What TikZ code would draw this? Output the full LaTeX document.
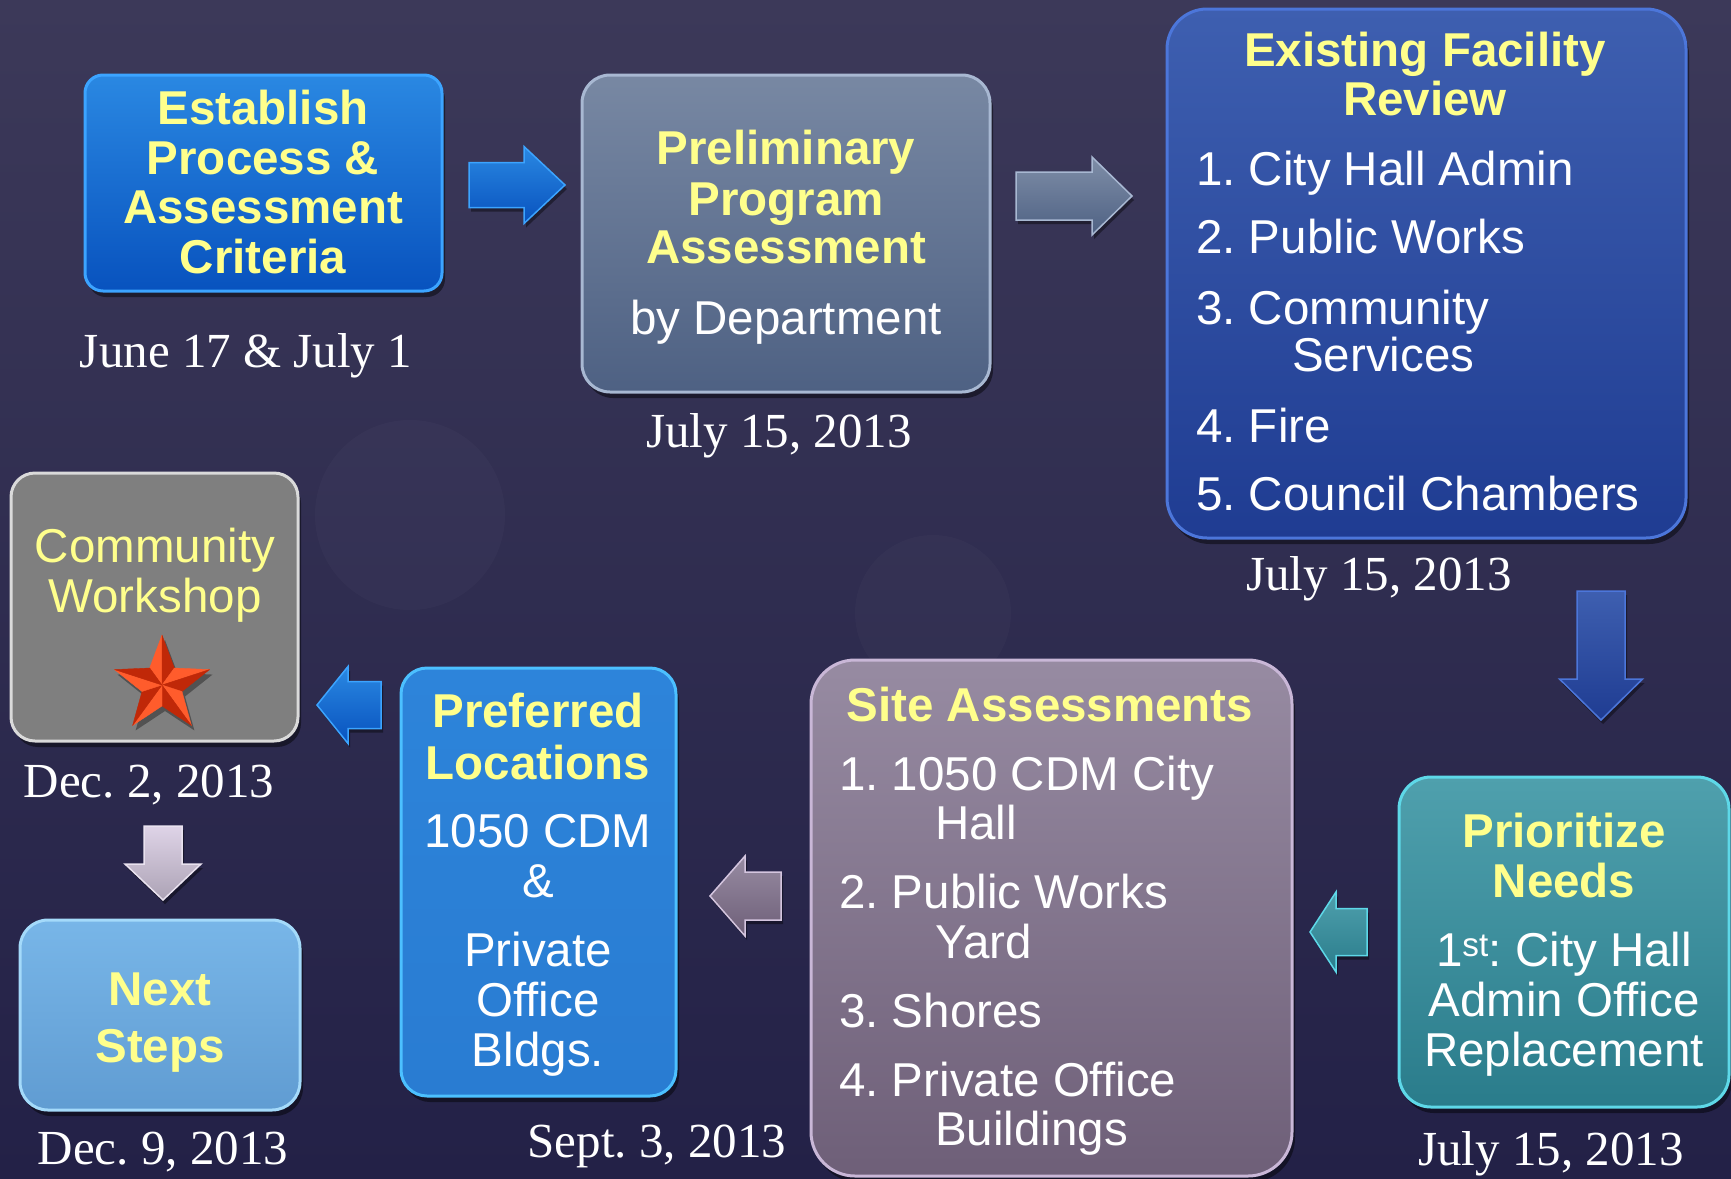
\documentclass[tikz,border=0pt]{standalone}
\usepackage{fontspec}
\setmainfont{Liberation Sans}
\newfontfamily\datefont{Liberation Serif}
\usetikzlibrary{shadows}
\frenchspacing

% palette
\definecolor{bgtop}{HTML}{3C3959}
\definecolor{bgbot}{HTML}{232147}
\definecolor{yel}{HTML}{FFFF8C}
\definecolor{bluetop}{HTML}{2A88E2}
\definecolor{bluebot}{HTML}{0852BE}
\definecolor{blueedge}{HTML}{3CA4FF}
\definecolor{slatetop}{HTML}{7888A3}
\definecolor{slatebot}{HTML}{4E6183}
\definecolor{slateedge}{HTML}{A8B8D2}
\definecolor{navytop}{HTML}{3E5FB0}
\definecolor{navybot}{HTML}{1F3C92}
\definecolor{navyedge}{HTML}{4C76DA}
\definecolor{tealtop}{HTML}{4FA0AD}
\definecolor{tealbot}{HTML}{2A7C8B}
\definecolor{tealedge}{HTML}{5ED8E8}
\definecolor{mauvetop}{HTML}{978BA2}
\definecolor{mauvebot}{HTML}{6E5F78}
\definecolor{mauveedge}{HTML}{C9B7D7}
\definecolor{preftop}{HTML}{2D84DA}
\definecolor{prefbot}{HTML}{297CD2}
\definecolor{prefedge}{HTML}{4CC0FF}
\definecolor{greyfill}{HTML}{7F7F7F}
\definecolor{greyedge}{HTML}{DADADA}
\definecolor{skytop}{HTML}{78B6E8}
\definecolor{skybot}{HTML}{609CD2}
\definecolor{skyedge}{HTML}{A4DAFA}
\definecolor{starlight}{HTML}{FF5C2C}
\definecolor{stardark}{HTML}{C02808}

\newcommand\bodysize{\fontsize{47.5}{50}\selectfont}
\newcommand\datesize{\datefont\fontsize{49}{52}\selectfont}

\tikzset{
  panel/.style n args={4}{rounded corners=#1, top color=#2, bottom color=#3,
    draw=#4, line width=3pt, inner sep=0pt,
    drop shadow={shadow xshift=3pt, shadow yshift=-6pt, fill=black, opacity=0.45}},
  headline/.style={text=yel, font=\bodysize\bfseries, anchor=base, inner sep=0pt},
  plainline/.style={text=white, font=\bodysize, anchor=base, inner sep=0pt},
  listline/.style={text=white, font=\bodysize, anchor=base west, inner sep=0pt},
  datelabel/.style={text=white, font=\datesize, anchor=base, inner sep=0pt},
  blockarrow/.style n args={3}{top color=#1, bottom color=#2, draw=#3,
    line width=1.5pt, line join=miter,
    drop shadow={shadow xshift=2pt, shadow yshift=-4pt, fill=black, opacity=0.4}},
  starfacet/.style={fill=#1, draw=#1, line width=0.4pt, line join=round},
}

\begin{document}
\begin{tikzpicture}[x=1pt, y=-1pt]
\useasboundingbox (0,0) rectangle (1731,1178);

% backdrop with two faint light discs
\shade[top color=bgtop, bottom color=bgbot] (0,0) rectangle (1731,1178);
\fill[white, opacity=0.022] (410,515) circle (95);
\fill[white, opacity=0.018] (933,613) circle (78);

% ---- process boxes ----
\node[panel={18pt}{bluetop}{bluebot}{blueedge}, minimum width=357pt, minimum height=216pt] (b1) at (263.5,183) {};
\node[panel={28pt}{slatetop}{slatebot}{slateedge}, minimum width=408pt, minimum height=317pt] (b2) at (786,233.5) {};
\node[panel={40pt}{navytop}{navybot}{navyedge}, minimum width=519pt, minimum height=529pt] (b3) at (1426.5,273.5) {};
\node[panel={32pt}{tealtop}{tealbot}{tealedge}, minimum width=330pt, minimum height=330pt] (b4) at (1564,942) {};
\node[panel={44pt}{mauvetop}{mauvebot}{mauveedge}, minimum width=481pt, minimum height=516pt] (b5) at (1051.5,918) {};
\node[panel={26pt}{preftop}{prefbot}{prefedge}, minimum width=275pt, minimum height=428pt] (b6) at (538.5,882) {};
\node[panel={24pt}{greyfill}{greyfill}{greyedge}, minimum width=287pt, minimum height=268pt] (b7) at (154.5,607) {};
\node[panel={28pt}{skytop}{skybot}{skyedge}, minimum width=280pt, minimum height=190pt] (b8) at (160,1015) {};

% ---- block arrows between the boxes ----
\path[blockarrow={bluetop}{bluebot}{blueedge}]
  (469,162.5) -- (524,162.5) -- (524,146.5) -- (565,185) -- (524,223.5) -- (524,207.5) -- (469,207.5) -- cycle;
\path[blockarrow={slatetop!95!white}{slatebot}{slateedge}]
  (1016,172) -- (1092,172) -- (1092,157) -- (1132,196) -- (1092,235) -- (1092,220) -- (1016,220) -- cycle;
\path[blockarrow={navytop}{navybot}{navyedge}]
  (1577,591) -- (1625,591) -- (1625,679) -- (1642.5,679) -- (1601,720) -- (1559.5,679) -- (1577,679) -- cycle;
\path[blockarrow={tealtop}{tealbot}{tealedge}]
  (1367,908.5) -- (1336,908.5) -- (1336,892) -- (1310,932) -- (1336,972) -- (1336,955.5) -- (1367,955.5) -- cycle;
\path[blockarrow={mauvetop}{mauvebot}{mauveedge!80!white}]
  (781,872) -- (745,872) -- (745,856) -- (710,896) -- (745,936) -- (745,920) -- (781,920) -- cycle;
\path[blockarrow={bluetop}{bluebot}{blueedge}]
  (381,681.5) -- (348,681.5) -- (348,666.5) -- (317,705) -- (348,743.5) -- (348,728.5) -- (381,728.5) -- cycle;
\path[blockarrow={mauveedge!60!white}{mauvetop!80!white}{mauveedge!40!white}]
  (144,826) -- (182,826) -- (182,864) -- (201,864) -- (163,900) -- (125,864) -- (144,864) -- cycle;

% ---- box texts ----
\node[headline] (b1a) at (263,124) {Establish};
\node[headline] (b1b) at (263,174) {Process \&};
\node[headline] (b1c) at (263,223) {Assessment};
\node[headline] (b1d) at (263,273) {Criteria};

\node[headline] (b2a) at (786,164) {Preliminary};
\node[headline] (b2b) at (786,215) {Program};
\node[headline] (b2c) at (786,263) {Assessment};
\node[plainline] (b2d) at (786,334) {by Department};

\node[headline] (b3a) at (1425,66) {Existing Facility};
\node[headline] (b3b) at (1425,115) {Review};
\node[listline] (b3c) at (1196,185) {1. City Hall Admin};
\node[listline] (b3d) at (1196,253) {2. Public Works};
\node[listline] (b3e) at (1196,324) {3. Community};
\node[listline] (b3f) at (1292,371) {Services};
\node[listline] (b3g) at (1196,442) {4. Fire};
\node[listline] (b3h) at (1196,510) {5. Council Chambers};

\node[headline] (b4a) at (1564,847) {Prioritize};
\node[headline] (b4b) at (1564,897) {Needs};
\node[plainline] (b4c) at (1564,966) {1\textsuperscript{st}: City Hall};
\node[plainline] (b4d) at (1564,1016) {Admin Office};
\node[plainline] (b4e) at (1564,1066) {Replacement};

\node[headline] (b5a) at (1050,721) {Site Assessments};
\node[listline] (b5b) at (839,790) {1. 1050 CDM City};
\node[listline] (b5c) at (935,839) {Hall};
\node[listline] (b5d) at (839,908) {2. Public Works};
\node[listline] (b5e) at (935,958) {Yard};
\node[listline] (b5f) at (839,1027) {3. Shores};
\node[listline] (b5g) at (839,1096) {4. Private Office};
\node[listline] (b5h) at (935,1145) {Buildings};

\node[headline] (b6a) at (538,727) {Preferred};
\node[headline] (b6b) at (538,779) {Locations};
\node[plainline] (b6c) at (538,847) {1050 CDM};
\node[plainline] (b6d) at (538,897) {\&};
\node[plainline] (b6e) at (538,966) {Private};
\node[plainline] (b6f) at (538,1016) {Office};
\node[plainline] (b6g) at (538,1066) {Bldgs.};

\node[plainline, text=yel] (b7a) at (155,562) {Community};
\node[plainline, text=yel] (b7b) at (155,612) {Workshop};

\node[headline] (b8a) at (160,1005) {Next};
\node[headline] (b8b) at (160,1062) {Steps};

% ---- dates ----
\node[datelabel] (d1) at (246,367) {June 17 \& July 1};
\node[datelabel] (d2) at (779,447) {July 15, 2013};
\node[datelabel] (d3) at (1379,590) {July 15, 2013};
\node[datelabel] (d4) at (1551,1165) {July 15, 2013};
\node[datelabel] (d5) at (657,1157) {Sept. 3, 2013};
\node[datelabel] (d6) at (149,797) {Dec. 2, 2013};
\node[datelabel] (d7) at (163,1164) {Dec. 9, 2013};

% ---- bevelled star in the workshop box ----
\begin{scope}[shift={(162,685)}]
  \fill[black, opacity=0.35, shift={(3,5)}]
    (-90:50) -- (-54:21) -- (-18:50) -- (18:21) -- (54:50) -- (90:21)
    -- (126:50) -- (162:21) -- (198:50) -- (234:21) -- cycle;
  \foreach \a in {-90,-18,54,126,198} {
    \path[starfacet=starlight] (0,0) -- (\a:50) -- ({\a-36}:21) -- cycle;
    \path[starfacet=stardark] (0,0) -- (\a:50) -- ({\a+36}:21) -- cycle;
  }
\end{scope}
\end{tikzpicture}
\end{document}
